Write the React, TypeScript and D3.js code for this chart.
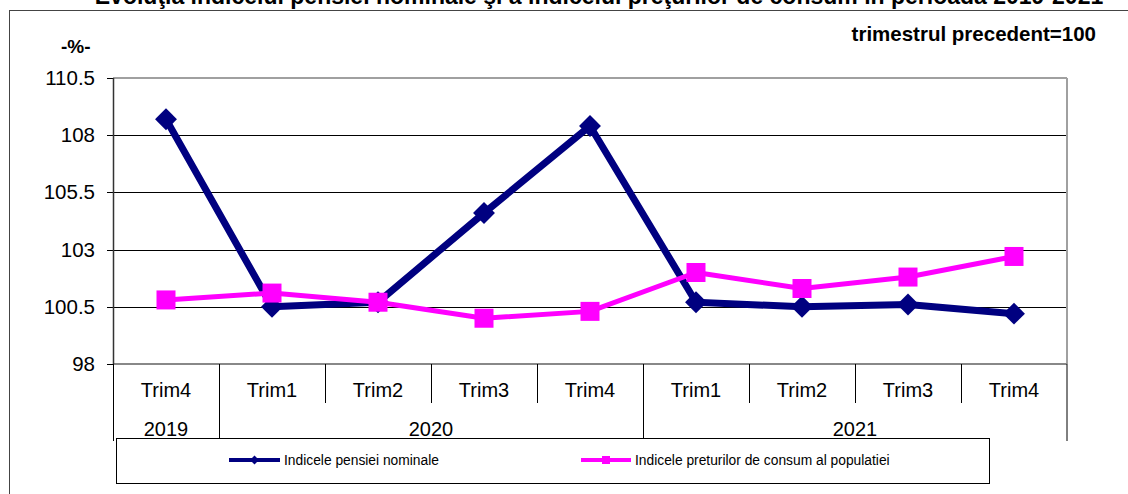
import * as d3 from "d3";

const quarters = ["Trim4", "Trim1", "Trim2", "Trim3", "Trim4", "Trim1", "Trim2", "Trim3", "Trim4"];
const years = [
  { label: "2019", from: 0, to: 1 },
  { label: "2020", from: 1, to: 5 },
  { label: "2021", from: 5, to: 9 },
];
const pensie = [108.7, 100.5, 100.7, 104.6, 108.4, 100.7, 100.5, 100.6, 100.2];
const preturi = [100.8, 101.1, 100.7, 100.0, 100.3, 102.0, 101.3, 101.8, 102.7];
const yTicks = [98, 100.5, 103, 105.5, 108, 110.5];

const W = 1128;
const H = 494;
const left = 113;
const right = 1067;
const top = 78;
const bottom = 364;
const font = "Liberation Sans, Arial, sans-serif";

export default function App() {
  const idx = quarters.map((_, i) => i);
  const x = d3.scaleBand<number>().domain(idx).range([left, right]);
  const y = d3.scaleLinear().domain([98, 110.5]).range([bottom, top]);
  const line = d3
    .line<number>()
    .x((_, i) => x(i)! + x.bandwidth() / 2)
    .y((d) => y(d));
  const diamond = d3.symbol(d3.symbolSquare, 240)()!;
  const square = d3.symbol(d3.symbolSquare, 361)()!;
  const smallDiamond = d3.symbol(d3.symbolSquare, 40)()!;
  const smallSquare = d3.symbol(d3.symbolSquare, 64)()!;

  return (
    <svg width={W} height={H} style={{ position: "absolute", left: 0, top: 0 }} fontFamily={font}>
      <rect width={W} height={H} fill="#fff" />
      <text x={599} y={4} textAnchor="middle" fontSize={23} fontWeight="bold">
        Evoluţia indicelui pensiei nominale şi a indicelui preţurilor de consum în perioada 2019-2021
      </text>
      <rect x={9.5} y={10.5} width={W} height={H} fill="none" stroke="#444" strokeWidth={1} />
      <text x={61} y={53} fontSize={19} fontWeight="bold">-%-</text>
      <text x={1096} y={41} textAnchor="end" fontSize={20.5} fontWeight="bold">
        trimestrul precedent=100
      </text>

      {/* grid + y axis */}
      {yTicks.map((t) => (
        <g key={t}>
          {t > 98 && t < 110.5 && (
            <line x1={left} x2={right} y1={Math.round(y(t)) + 0.5} y2={Math.round(y(t)) + 0.5} stroke="#000" />
          )}
          <line x1={left - 6} x2={left} y1={Math.round(y(t)) + 0.5} y2={Math.round(y(t)) + 0.5} stroke="#000" />
          <text x={95} y={y(t) + 7} textAnchor="end" fontSize={20.5}>
            {t}
          </text>
        </g>
      ))}
      <line x1={left} x2={right} y1={top} y2={top} stroke="#a0a0a0" strokeWidth={2} />
      <line x1={right} x2={right} y1={top} y2={bottom} stroke="#a0a0a0" strokeWidth={2} />
      <line x1={left} x2={right} y1={bottom} y2={bottom} stroke="#888" strokeWidth={2} />
      <line x1={left + 0.5} x2={left + 0.5} y1={top} y2={bottom} stroke="#333" strokeWidth={1.5} />

      {/* category axis */}
      {idx.map((i) => {
        const bx = Math.round(x(i)!) + 0.5;
        const boundary = years.some((g) => g.from === i);
        return (
          <line key={"s" + i} x1={bx} x2={bx} y1={bottom} y2={boundary ? 441 : 403} stroke="#000" />
        );
      })}
      <line x1={right} x2={right} y1={bottom} y2={441} stroke="#000" />
      {quarters.map((q, i) => (
        <text key={"q" + i} x={x(i)! + x.bandwidth() / 2} y={397} textAnchor="middle" fontSize={20}>
          {q}
        </text>
      ))}
      {years.map((g) => (
        <text
          key={g.label}
          x={(x(g.from)! + (g.to < 9 ? x(g.to)! : right)) / 2}
          y={436}
          textAnchor="middle"
          fontSize={20}
        >
          {g.label}
        </text>
      ))}

      {/* series */}
      <path d={line(pensie)!} fill="none" stroke="#000080" strokeWidth={7} strokeLinejoin="round" />
      {pensie.map((v, i) => (
        <path
          key={"p" + i}
          d={diamond}
          transform={`translate(${x(i)! + x.bandwidth() / 2},${y(v)}) rotate(45)`}
          fill="#000080"
        />
      ))}
      <path d={line(preturi)!} fill="none" stroke="#ff00ff" strokeWidth={5} strokeLinejoin="round" />
      {preturi.map((v, i) => (
        <path
          key={"c" + i}
          d={square}
          transform={`translate(${x(i)! + x.bandwidth() / 2},${y(v)})`}
          fill="#ff00ff"
        />
      ))}

      {/* legend */}
      <rect x={116.5} y={438.5} width={873} height={45} fill="#fff" stroke="#000" />
      <line x1={229} x2={280} y1={460} y2={460} stroke="#000080" strokeWidth={4} />
      <path d={smallDiamond} transform="translate(254.5,460) rotate(45)" fill="#000080" />
      <text x={284} y={465} fontSize={13.8}>Indicele pensiei nominale</text>
      <line x1={581} x2={631} y1={460} y2={460} stroke="#ff00ff" strokeWidth={4} />
      <path d={smallSquare} transform="translate(606,460)" fill="#ff00ff" />
      <text x={635} y={465} fontSize={13.8}>Indicele preturilor de consum al populatiei</text>
    </svg>
  );
}
